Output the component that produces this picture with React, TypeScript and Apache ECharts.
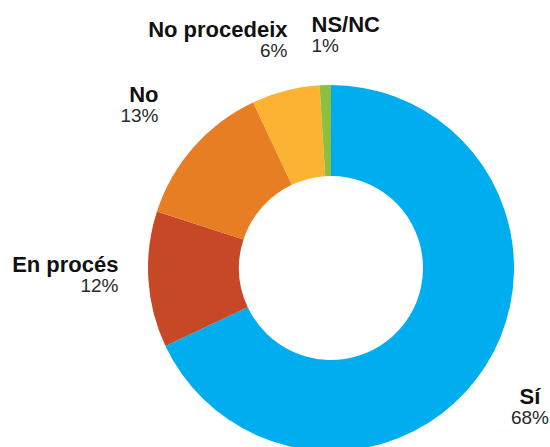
import React, { useEffect, useRef } from "react";
import * as echarts from "echarts";

const categories = ["Sí", "En procés", "No", "No procedeix", "NS/NC"];
const values = [68, 12, 13, 6, 1];
const colors = ["#00AEEF", "#C64827", "#E87E24", "#FBB331", "#8DC03F"];

// label anchor placement (layout only)
const labelAnchors = [
  { x: 530, y: 386.5, align: "center" },
  { x: 118.5, y: 254.8, align: "right" },
  { x: 158.5, y: 84.2, align: "right" },
  { x: 287.5, y: 19.8, align: "right" },
  { x: 311.5, y: 14.2, align: "left" },
];

const FONT = "'Liberation Sans', Arial, Helvetica, sans-serif";

function makeRich() {
  const rich: Record<string, any> = {};
  (["left", "right", "center"] as const).forEach((a) => {
    rich["n_" + a] = {
      fontFamily: FONT,
      fontSize: 22,
      fontWeight: "bold",
      lineHeight: 20,
      color: "#111",
      align: a,
    };
    rich["p_" + a] = {
      fontFamily: FONT,
      fontSize: 19,
      fontWeight: "normal",
      lineHeight: 22,
      color: "#2a2a2a",
      align: a,
    };
  });
  return rich;
}

export default function App() {
  const ref = useRef<HTMLDivElement>(null);
  useEffect(() => {
    if (!ref.current) return;
    const chart = echarts.init(ref.current, null, { renderer: "svg" });
    chart.setOption({
      animation: false,
      backgroundColor: "#ffffff",
      series: [
        {
          type: "pie",
          center: [331, 268],
          radius: [92, 183],
          startAngle: 90,
          clockwise: true,
          avoidLabelOverlap: false,
          silent: true,
          data: categories.map((name, i) => ({
            name,
            value: values[i],
            itemStyle: { color: colors[i] },
          })),
          label: {
            show: true,
            position: "outside",
            formatter: (p: any) => {
              const a = labelAnchors[p.dataIndex].align;
              return `{n_${a}|${p.name}}\n{p_${a}|${p.value}%}`;
            },
            rich: makeRich(),
          },
          labelLine: { show: false },
          labelLayout: (params: any) => {
            const a = labelAnchors[params.dataIndex];
            return {
              x: a.x,
              y: a.y,
              align: a.align,
              verticalAlign: "top",
            };
          },
        },
      ],
    });
    return () => chart.dispose();
  }, []);
  return (
    <div
      ref={ref}
      style={{ position: "fixed", left: 0, top: 0, width: 550, height: 447 }}
    />
  );
}
